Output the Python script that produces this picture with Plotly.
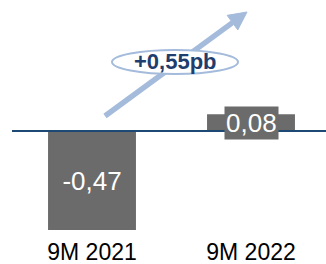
import plotly.graph_objects as go

categories = ["9M 2021", "9M 2022"]
values = [-0.47, 0.08]
delta_label = "+0,55pb"

W, H = 326, 264
ML, MR, MT, MB = 0, 0, 0, 28
PH = H - MT - MB


def fmt(v):
    return f"{v:.2f}".replace(".", ",")


def px(x):
    return x / W


def py(y):
    return (H - MB - y) / PH


BAR = "#6b6b6b"
NAVY = "#1d4a74"
ARROW = "#a4bbdb"
TXT = "#1f3e6e"
FONT = "Liberation Sans, Arial, sans-serif"

fig = go.Figure()
fig.add_trace(go.Bar(
    x=[0, 1], y=values,
    marker=dict(color=BAR, line=dict(width=0)),
    width=0.553,
    text=[fmt(values[0]), ""],
    textposition="inside",
    insidetextanchor="middle",
    textfont=dict(color="white", size=26, family=FONT),
    cliponaxis=False,
))

# baseline
fig.add_shape(type="line", xref="paper", yref="y", x0=px(12), x1=1, y0=0, y1=0,
              line=dict(color=NAVY, width=2), layer="above")

# arrow (line + head) drawn as shapes so the ellipse can sit on top
tail = (105, 116)
tip = (247, 12)
dx, dy = tip[0] - tail[0], tip[1] - tail[1]
L = (dx ** 2 + dy ** 2) ** 0.5
ux, uy = dx / L, dy / L
hl, hw = 18, 9
bx, by = tip[0] - hl * ux, tip[1] - hl * uy
pxp, pyp = -uy, ux
fig.add_shape(type="line", xref="paper", yref="paper",
              x0=px(tail[0]), y0=py(tail[1]), x1=px(bx), y1=py(by),
              line=dict(color=ARROW, width=5.5), layer="above")
c1 = (bx + hw * pxp, by + hw * pyp)
c2 = (bx - hw * pxp, by - hw * pyp)
path = (f"M {px(tip[0])},{py(tip[1])} L {px(c1[0])},{py(c1[1])} "
        f"L {px(c2[0])},{py(c2[1])} Z")
fig.add_shape(type="path", xref="paper", yref="paper", path=path,
              fillcolor=ARROW, line=dict(color=ARROW, width=1), layer="above")

# ellipse
fig.add_shape(type="circle", xref="paper", yref="paper",
              x0=px(112), x1=px(238), y0=py(74), y1=py(50),
              fillcolor="white", line=dict(color=ARROW, width=2), layer="above")
fig.add_annotation(xref="paper", yref="paper", x=px(175), y=py(62),
                   text=f"<b>{delta_label}</b>", showarrow=False,
                   font=dict(color=TXT, size=22, family=FONT),
                   xanchor="center", yanchor="middle")

# label of second bar
fig.add_annotation(x=1, y=values[1] / 2, xref="x", yref="y",
                   text=fmt(values[1]), showarrow=False,
                   font=dict(color="white", size=26, family=FONT),
                   bgcolor=BAR, borderpad=1, xanchor="center", yanchor="middle")

scale = (230 - 131) / 0.47
fig.update_layout(
    width=W, height=H,
    margin=dict(l=ML, r=MR, t=MT, b=MB),
    paper_bgcolor="white", plot_bgcolor="white",
    showlegend=False,
    font=dict(family=FONT),
    xaxis=dict(range=[-92 / 159, 1 + (326 - 251) / 159],
               tickvals=[0, 1], ticktext=categories,
               tickfont=dict(size=23, color="black", family=FONT),
               showgrid=False, zeroline=False, showline=False, ticks=""),
    yaxis=dict(range=[-(236 - 131) / scale, 131 / scale], visible=False,
               showgrid=False, zeroline=False),
)

fig.write_html("out.html", config={"displayModeBar": False},
               post_script="document.body.style.margin='0';document.body.style.overflow='hidden';")
